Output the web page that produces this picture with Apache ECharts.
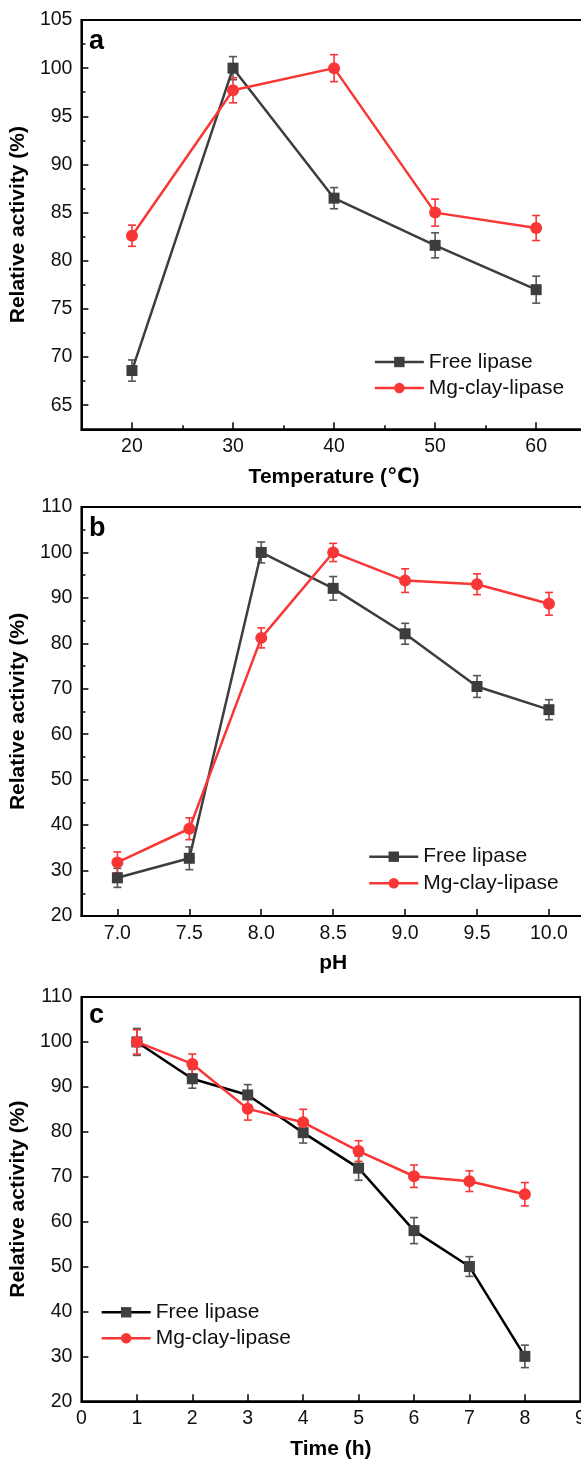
<!DOCTYPE html>
<html><head><meta charset="utf-8">
<script src="https://cdn.jsdelivr.net/npm/echarts@6/dist/echarts.min.js"></script>
<style>html,body{margin:0;padding:0;overflow:hidden;background:#fff}#c{position:absolute;left:0;top:0;width:600px;height:1461px}</style>
</head><body><div id="c"></div>
<script>
// ---- data ----
const tempX = [20, 30, 40, 50, 60];
const tempFree = [68.6, 100, 86.5, 81.6, 77.0];
const tempFreeErr = [1.1, 1.2, 1.1, 1.3, 1.4];
const tempMg = [82.6, 97.7, 100, 85.0, 83.4];
const tempMgErr = [1.1, 1.3, 1.4, 1.4, 1.3];

const phX = [7.0, 7.5, 8.0, 8.5, 9.0, 9.5, 10.0];
const phFree = [28.4, 32.7, 100, 92.1, 82.1, 70.5, 65.4];
const phFreeErr = [2.1, 2.5, 2.3, 2.6, 2.3, 2.4, 2.2];
const phMg = [31.8, 39.2, 81.2, 100, 93.8, 93.0, 88.7];
const phMgErr = [2.3, 2.4, 2.2, 2.0, 2.6, 2.3, 2.5];

const timeX = [1, 2, 3, 4, 5, 6, 7, 8];
const timeFree = [100, 91.8, 88.2, 79.8, 71.9, 58.0, 50.0, 30.0];
const timeFreeErr = [3.0, 2.1, 2.3, 2.3, 2.7, 2.9, 2.2, 2.5];
const timeMg = [100, 95.1, 85.1, 82.1, 75.7, 70.1, 69.0, 66.1];
const timeMgErr = [2.7, 2.2, 2.5, 2.9, 2.3, 2.5, 2.3, 2.6];

const tempXTicks = [20, 30, 40, 50, 60];
const tempXMinor = [25, 35, 45, 55];
const tempYTicks = [65, 70, 75, 80, 85, 90, 95, 100, 105];
const tempYMinor = [67.5, 72.5, 77.5, 82.5, 87.5, 92.5, 97.5, 102.5];
const phXTicks = [7.0, 7.5, 8.0, 8.5, 9.0, 9.5, 10.0];
const phYTicks = [20, 30, 40, 50, 60, 70, 80, 90, 100, 110];
const phYMinor = [25, 35, 45, 55, 65, 75, 85, 95, 105];
const timeXTicks = [0, 1, 2, 3, 4, 5, 6, 7, 8, 9];
const timeYTicks = [20, 30, 40, 50, 60, 70, 80, 90, 100, 110];

const seriesNames = ['Free lipase', 'Mg-clay-lipase'];
const panelLetters = ['a', 'b', 'c'];
const xTitles = ['Temperature (\u2103)', 'pH', 'Time (h)'];
const yTitle = 'Relative activity (%)';

// ---- styling ----
const FONT = '"Liberation Sans", Arial, "DejaVu Sans", "Noto Sans CJK SC", sans-serif';
const GRAY = '#3d3d3d';
const GRAY_ERR = '#555555';
const RED = '#f93636';
const BLACK = '#000000';

const zip = (xs, ys) => xs.map((x, i) => [x, ys[i]]);
const zip3 = (xs, ys, es) => xs.map((x, i) => [x, ys[i], es[i]]);

function errRender(color) {
  return function (params, api) {
    const x = api.value(0), y = api.value(1), e = api.value(2);
    const t = api.coord([x, y + e]), b = api.coord([x, y - e]);
    const hw = 4;
    const st = { stroke: color, lineWidth: 1.6, fill: null };
    return {
      type: 'group', children: [
        { type: 'line', shape: { x1: t[0], y1: t[1], x2: b[0], y2: b[1] }, style: st },
        { type: 'line', shape: { x1: t[0] - hw, y1: t[1], x2: t[0] + hw, y2: t[1] }, style: st },
        { type: 'line', shape: { x1: b[0] - hw, y1: b[1], x2: b[0] + hw, y2: b[1] }, style: st }
      ]
    };
  };
}

const axisLineStyle = { show: true, lineStyle: { color: BLACK, width: 2 } };
const labelStyle = { color: '#111', fontSize: 19.5, fontFamily: FONT };
const nameStyle = { color: '#000', fontSize: 21, fontWeight: 'bold', fontFamily: FONT };

function mainX(gi, min, max, ticks, name, fmt) {
  return {
    gridIndex: gi, type: 'value', min: min, max: max, position: 'bottom',
    axisLine: axisLineStyle,
    axisTick: { show: true, inside: true, length: 7, customValues: ticks, lineStyle: { color: BLACK, width: 1.5 } },
    axisLabel: Object.assign({ show: true, margin: 8, customValues: ticks, formatter: fmt }, labelStyle),
    splitLine: { show: false },
    name: name, nameLocation: 'middle', nameGap: 37, nameTextStyle: nameStyle
  };
}
function minorX(gi, min, max, ticks) {
  return {
    gridIndex: gi, type: 'value', min: min, max: max, position: 'bottom', offset: 0,
    axisLine: { show: false },
    axisTick: { show: true, inside: true, length: 4, customValues: ticks, lineStyle: { color: BLACK, width: 1.5 } },
    axisLabel: { show: false }, splitLine: { show: false }
  };
}
function mainY(gi, min, max, ticks) {
  return {
    gridIndex: gi, type: 'value', min: min, max: max, position: 'left',
    axisLine: axisLineStyle,
    axisTick: { show: true, inside: true, length: 7, customValues: ticks, lineStyle: { color: BLACK, width: 1.5 } },
    axisLabel: Object.assign({ show: true, margin: 9, customValues: ticks }, labelStyle),
    splitLine: { show: false },
    name: yTitle, nameLocation: 'middle', nameRotate: 90, nameGap: 45, nameTextStyle: nameStyle
  };
}
function minorY(gi, min, max, ticks) {
  return {
    gridIndex: gi, type: 'value', min: min, max: max, position: 'left', offset: 0,
    axisLine: { show: false },
    axisTick: { show: true, inside: true, length: 4, customValues: ticks, lineStyle: { color: BLACK, width: 1.5 } },
    axisLabel: { show: false }, splitLine: { show: false }
  };
}

function lineSeries(name, xi, yi, data, lineColor, markColor, symbol, size) {
  return {
    name: name, type: 'line', xAxisIndex: xi, yAxisIndex: yi, data: data,
    symbol: symbol, symbolSize: size, showSymbol: true,
    lineStyle: { color: lineColor, width: 2.5 },
    itemStyle: { color: markColor },
    z: 3, animation: false
  };
}
function errSeries(xi, yi, data, color) {
  return {
    type: 'custom', xAxisIndex: xi, yAxisIndex: yi, data: data,
    renderItem: errRender(color), encode: { x: 0, y: 1 }, clip: false, z: 2, animation: false
  };
}

const fmt1 = v => Number(v).toFixed(1);
const fmt0 = v => String(v);

const legendText = { color: '#111', fontSize: 21, fontFamily: FONT, lineHeight: 21 };
function legend(left, top, gap, freeLine, freeMark) {
  return {
    orient: 'vertical', left: left, top: top, itemGap: gap, itemWidth: 49, itemHeight: 13,
    textStyle: legendText, selectedMode: false, padding: 0,
    data: [
      { name: seriesNames[0], itemStyle: { color: freeMark }, lineStyle: { color: freeLine, width: 2.5 } },
      { name: seriesNames[1], itemStyle: { color: RED }, lineStyle: { color: RED, width: 2.5 } }
    ]
  };
}

const option = {
  backgroundColor: '#fff',
  animation: false,
  textStyle: { fontFamily: FONT },
  grid: [
    { left: 76.7, top: 20, width: 510, height: 409.3, show: true, borderColor: BLACK, borderWidth: 2, backgroundColor: 'transparent' },
    { left: 76.7, top: 507, width: 508.2, height: 409, show: true, borderColor: BLACK, borderWidth: 2, backgroundColor: 'transparent' },
    { left: 76.7, top: 997, width: 503.6, height: 404.3, show: true, borderColor: BLACK, borderWidth: 2, backgroundColor: 'transparent' }
  ],
  xAxis: [
    mainX(0, 15, 65, tempXTicks, xTitles[0], fmt0),
    minorX(0, 15, 65, tempXMinor),
    mainX(1, 6.75, 10.25, phXTicks, xTitles[1], fmt1),
    minorX(1, 6.75, 10.25, []),
    mainX(2, 0, 9, timeXTicks, xTitles[2], fmt0)
  ],
  yAxis: [
    mainY(0, 62.5, 105, tempYTicks),
    minorY(0, 62.5, 105, tempYMinor),
    mainY(1, 20, 110, phYTicks),
    minorY(1, 20, 110, phYMinor),
    mainY(2, 20, 110, timeYTicks)
  ],
  legend: [
    legend(373.6, 351.5, 5, GRAY, GRAY),
    legend(368, 846.2, 5.6, GRAY, GRAY),
    legend(100.4, 1301.8, 5, BLACK, '#404040')
  ],
  graphic: panelLetters.map((t, i) => ({
    type: 'text', x: 89, y: [42, 528.5, 1015.5][i],
    style: { text: t, fontSize: 27, fontWeight: 'bold', fontFamily: FONT, fill: '#000', textVerticalAlign: 'middle' }
  })),
  series: [
    errSeries(0, 0, zip3(tempX, tempFree, tempFreeErr), GRAY_ERR),
    errSeries(0, 0, zip3(tempX, tempMg, tempMgErr), RED),
    lineSeries(seriesNames[0], 0, 0, zip(tempX, tempFree), GRAY, GRAY, 'rect', 11),
    lineSeries(seriesNames[1], 0, 0, zip(tempX, tempMg), RED, RED, 'circle', 12),

    errSeries(2, 2, zip3(phX, phFree, phFreeErr), GRAY_ERR),
    errSeries(2, 2, zip3(phX, phMg, phMgErr), RED),
    lineSeries(seriesNames[0], 2, 2, zip(phX, phFree), GRAY, GRAY, 'rect', 11),
    lineSeries(seriesNames[1], 2, 2, zip(phX, phMg), RED, RED, 'circle', 12),

    errSeries(4, 4, zip3(timeX, timeFree, timeFreeErr), GRAY_ERR),
    errSeries(4, 4, zip3(timeX, timeMg, timeMgErr), RED),
    lineSeries(seriesNames[0], 4, 4, zip(timeX, timeFree), BLACK, '#404040', 'rect', 11),
    lineSeries(seriesNames[1], 4, 4, zip(timeX, timeMg), RED, RED, 'circle', 12)
  ]
};

const chart = echarts.init(document.getElementById('c'), null, { renderer: 'canvas' });
chart.setOption(option);
</script>
</body></html>
